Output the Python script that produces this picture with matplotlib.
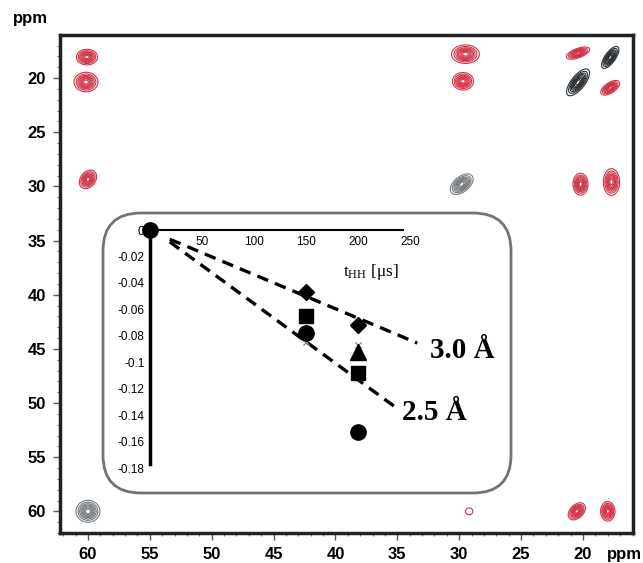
import numpy as np
import matplotlib
matplotlib.use('Agg')
import matplotlib.pyplot as plt
from matplotlib.patches import FancyBboxPatch
from matplotlib.ticker import MultipleLocator, FuncFormatter

plt.rcParams['font.family'] = ['Liberation Sans', 'DejaVu Sans']
plt.rcParams['axes.unicode_minus'] = False
plt.rcParams['mathtext.fontset'] = 'custom'
plt.rcParams['mathtext.rm'] = 'Liberation Serif'
plt.rcParams['mathtext.default'] = 'regular'

# 2D spectrum peaks (ppm), widths (ppm), tilt, intensity, colour group
peak_x = [60.08, 60.16, 60.0, 29.5, 29.7, 20.4, 17.8, 20.2, 17.7, 29.2, 20.5, 18.0,
          17.8, 20.4, 29.8, 60.0]
peak_y = [18.07, 20.37, 29.36, 17.8, 20.3, 17.7, 20.9, 29.8, 29.6, 60.0, 60.0, 60.0,
          18.1, 20.4, 29.8, 60.0]
peak_sx = [0.38, 0.43, 0.31, 0.50, 0.38, 0.42, 0.34, 0.27, 0.29, 0.28, 0.31, 0.26,
           0.31, 0.41, 0.41, 0.43]
peak_sy = [0.32, 0.40, 0.38, 0.38, 0.36, 0.25, 0.30, 0.45, 0.55, 0.30, 0.35, 0.40,
           0.45, 0.55, 0.42, 0.45]
peak_rho = [0.0, 0.0, 0.3, 0.0, 0.0, 0.6, 0.6, 0.0, 0.0, 0.0, 0.4, 0.0,
            0.7, 0.7, 0.5, 0.0]
peak_amp = [1, 1, 1, 1, 1, 1, 1, 1, 1, 0.14, 1, 1, 1, 1, 1, 1]
peak_group = ['red'] * 12 + ['black', 'black', 'gray', 'gray']
group_colors = {'red': '#d03447', 'black': '#2b3034', 'gray': '#777b7e'}

# inset: dipolar dephasing vs t_HH
dia_t = [150, 200]
dia_y = [-0.047, -0.072]
sq_t = [150, 200]
sq_y = [-0.065, -0.108]
tri_t = [200]
tri_y = [-0.092]
circ_t = [0, 150, 200]
circ_y = [0, -0.078, -0.153]
cross_t = [150, 200]
cross_y = [-0.085, -0.087]
fit30_t = [19, 257]
fit30_y = [-0.007, -0.0855]
fit25_t = [19, 236]
fit25_y = [-0.009, -0.134]

W, H = 643, 563
fig = plt.figure(figsize=(W / 100, H / 100), dpi=100)

# main spectrum axes
ax = fig.add_axes([60 / W, 1 - 533 / H, 573 / W, 498 / H])
ax.set_xlim(62.26, 15.96)
ax.set_ylim(62.0, 16.03)

xg = np.linspace(15.96, 62.26, 900)
yg = np.linspace(16.03, 62.0, 900)
X, Y = np.meshgrid(xg, yg)
levels = [0.08, 0.18, 0.3, 0.42, 0.54, 0.66, 0.78, 0.9]
for grp, col in group_colors.items():
    Z = np.zeros_like(X)
    for i in range(len(peak_x)):
        if peak_group[i] != grp:
            continue
        dx = (X - peak_x[i]) / peak_sx[i]
        dy = (Y - peak_y[i]) / peak_sy[i]
        r = peak_rho[i]
        Z += peak_amp[i] * np.exp(-(dx**2 - 2 * r * dx * dy + dy**2) / (2 * (1 - r**2)))
    ax.contour(X, Y, Z, levels=levels, colors=col, linewidths=0.8)

ax.xaxis.set_major_locator(MultipleLocator(5))
ax.yaxis.set_major_locator(MultipleLocator(5))
ax.xaxis.set_minor_locator(MultipleLocator(1))
ax.yaxis.set_minor_locator(MultipleLocator(1))
ax.tick_params(which='major', length=5, width=1, color='#555a5e', pad=5,
               labelsize=12)
ax.tick_params(which='minor', length=2.5, width=0.8, color='#777b7e')
for lab in ax.get_xticklabels() + ax.get_yticklabels():
    lab.set_fontweight('bold')
for sp in ax.spines.values():
    sp.set_linewidth(2.5)
    sp.set_color('#1d2327')

fig.text(30 / W, 1 - 18 / H, 'ppm', fontsize=12, fontweight='bold',
         ha='center', va='center')
fig.text(607 / W, 1 - 555 / H, 'ppm', fontsize=12, fontweight='bold',
         ha='left', va='center')

# rounded frame of the inset, drawn in pixel units
ov = fig.add_axes([0, 0, 1, 1], zorder=2)
ov.set_xlim(0, W)
ov.set_ylim(H, 0)
ov.axis('off')
ov.patch.set_alpha(0)
box = FancyBboxPatch((103, 213), 408, 280,
                     boxstyle='round,pad=0,rounding_size=38',
                     facecolor='white', edgecolor='#6e7579', linewidth=2)
ov.add_patch(box)

# inset plot
x0, sx = 150, 1.04
ins = fig.add_axes([x0 / W, 1 - 468 / H, 250 * sx / W, 238 / H], zorder=3)
ins.patch.set_alpha(0)
ins.set_xlim(0, 250)
ins.set_ylim(-0.18, 0)
ins.spines['top'].set_visible(False)
ins.spines['right'].set_visible(False)
ins.spines['bottom'].set_position(('data', 0))
ins.spines['bottom'].set_bounds(0, 243)
ins.spines['bottom'].set_linewidth(1.5)
ins.spines['left'].set_bounds(-0.177, 0)
ins.spines['left'].set_linewidth(2.5)
ins.set_xticks([50, 100, 150, 200, 250])
ins.set_yticks([0, -0.02, -0.04, -0.06, -0.08, -0.1, -0.12, -0.14, -0.16, -0.18])
ins.yaxis.set_major_formatter(FuncFormatter(lambda v, p: '%g' % v))
ins.tick_params(length=0, labelsize=8.5, pad=4)

dash_kw = dict(color='black', linewidth=2.4, dashes=(3.5, 2.2), clip_on=False)
ins.plot(fit30_t, fit30_y, **dash_kw)
ins.plot(fit25_t, fit25_y, **dash_kw)

mk = dict(linestyle='none', color='black', clip_on=False, zorder=5)
ins.plot(cross_t, cross_y, marker='x', markersize=4, color='#888888',
         linestyle='none', clip_on=False, zorder=4)
ins.plot(circ_t, circ_y, marker='o', markersize=11, **mk)
ins.plot(sq_t, sq_y, marker='s', markersize=10, **mk)
ins.plot(tri_t, tri_y, marker='^', markersize=11, **mk)
ins.plot(dia_t, dia_y, marker='D', markersize=8.5, **mk)

ins.text(186, -0.032, r'$t_{HH}$ [μs]', fontsize=12.5, family='Liberation Serif',
         ha='left', va='center')
ins.text(269, -0.091, '3.0 Å', fontsize=21, fontweight='bold',
         family='Liberation Serif', ha='left', va='center', clip_on=False)
ins.text(242, -0.138, '2.5 Å', fontsize=21, fontweight='bold',
         family='Liberation Serif', ha='left', va='center', clip_on=False)

fig.savefig('out.png', dpi=100)
